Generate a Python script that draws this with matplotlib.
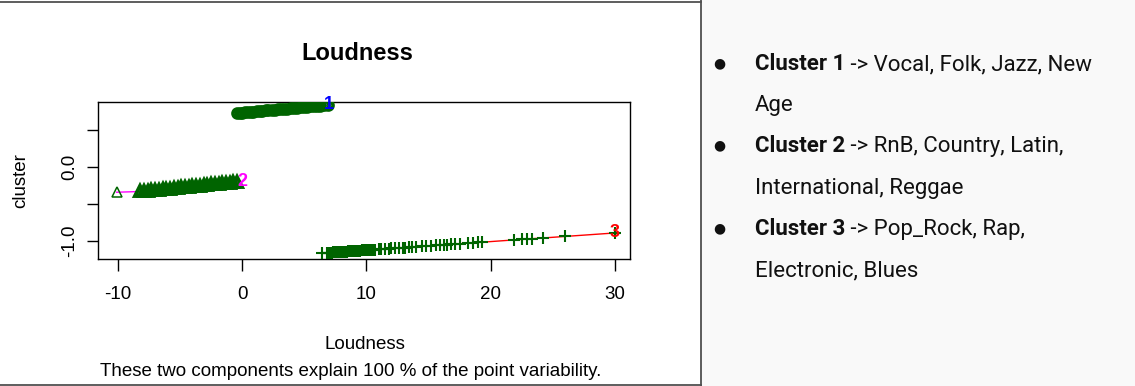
import matplotlib
matplotlib.use("Agg")
import matplotlib.pyplot as plt
from matplotlib.lines import Line2D
from matplotlib.patches import Rectangle

# cluster 1 (circles)
c1_x = [-0.4, -0.2, 0.0, 0.2, 0.5, 0.7, 0.9, 1.2, 1.4, 1.6, 1.9, 2.1, 2.4, 2.6, 2.9,
        3.1, 3.4, 3.6, 3.9, 4.2, 4.4, 4.7, 5.0, 5.2, 5.5, 5.8, 6.0, 6.3, 6.6, 6.9]
c1_y = [0.725, 0.728, 0.731, 0.734, 0.739, 0.742, 0.745, 0.749, 0.752, 0.755, 0.760,
        0.763, 0.767, 0.770, 0.775, 0.778, 0.782, 0.785, 0.790, 0.794, 0.797, 0.802,
        0.806, 0.809, 0.814, 0.818, 0.821, 0.826, 0.830, 0.835]

# cluster 2 (triangles)
c2_x = [-10.1, -8.2, -7.9, -7.6, -7.3, -7.0, -6.7, -6.4, -6.1, -5.8, -5.5, -5.2, -4.9,
        -4.6, -4.3, -4.0, -3.7, -3.4, -3.1, -2.8, -2.5, -2.2, -1.9, -1.6, -1.3, -1.0,
        -0.7, -0.4]
c2_y = [-0.345, -0.335, -0.330, -0.325, -0.320, -0.315, -0.310, -0.305, -0.300, -0.295,
        -0.290, -0.285, -0.280, -0.275, -0.270, -0.265, -0.260, -0.255, -0.250, -0.245,
        -0.240, -0.235, -0.230, -0.225, -0.220, -0.215, -0.210, -0.205]

# cluster 3 (plus)
c3_x = [6.4, 6.8, 6.9, 7.0, 7.1, 7.2, 7.3, 7.4, 7.5, 7.6, 7.7, 7.8, 7.9, 8.0, 8.1, 8.2,
        8.3, 8.4, 8.5, 8.6, 8.7, 8.8, 8.9, 9.0, 9.1, 9.2, 9.3, 9.4, 9.5, 9.6, 9.7, 9.8,
        9.9, 10.0, 10.1, 10.2, 10.3, 10.4, 10.5, 10.7, 11.0, 11.2, 11.5, 11.8, 12.0,
        12.3, 12.6, 12.9, 13.1, 13.4, 13.7, 14.0, 14.5, 14.8, 15.2, 15.6, 15.9, 16.2,
        16.5, 16.8, 17.1, 17.5, 18.2, 18.6, 19.0, 19.3, 21.9, 22.5, 22.9, 23.3, 24.2,
        26.0, 30.0]
c3_y = [-1.170, -1.165, -1.164, -1.163, -1.161, -1.160, -1.159, -1.158, -1.157, -1.156,
        -1.155, -1.153, -1.152, -1.151, -1.150, -1.149, -1.148, -1.146, -1.145, -1.144,
        -1.143, -1.142, -1.141, -1.139, -1.138, -1.137, -1.136, -1.135, -1.134, -1.132,
        -1.131, -1.130, -1.129, -1.128, -1.127, -1.125, -1.124, -1.123, -1.122, -1.120,
        -1.116, -1.114, -1.110, -1.107, -1.104, -1.101, -1.097, -1.094, -1.092, -1.088,
        -1.085, -1.081, -1.075, -1.072, -1.067, -1.063, -1.059, -1.056, -1.052, -1.049,
        -1.045, -1.040, -1.032, -1.028, -1.023, -1.020, -0.989, -0.982, -0.978, -0.973,
        -0.963, -0.942, -0.895]

x_ticks = [-10, 0, 10, 20, 30]
y_ticks = [-1.0, -0.5, 0.0, 0.5]
y_ticklabels = ["-1.0", "", "0.0", ""]

bullets = [
    ("Cluster 1", " -> Vocal, Folk, Jazz, New"),
    (None, "Age"),
    ("Cluster 2", " -> RnB, Country, Latin,"),
    (None, "International, Reggae"),
    ("Cluster 3", " -> Pop_Rock, Rap,"),
    (None, "Electronic, Blues"),
]

W, H = 1135, 386
fig = plt.figure(figsize=(W / 100, H / 100), dpi=100)
fig.patch.set_facecolor("white")

# right panel background + frame lines
fig.patches.append(Rectangle((701 / W, 0), 1 - 701 / W, 1, transform=fig.transFigure,
                             facecolor="#f9f9f9", edgecolor="none", zorder=0))
for xs, ys in [([0, 701 / W], [1 - 1.5 / H] * 2),
               ([0, 701 / W], [1 - 384.5 / H] * 2),
               ([701 / W] * 2, [0, 1])]:
    fig.lines.append(Line2D(xs, ys, transform=fig.transFigure, color="#505050", lw=1.3))

plt.rcParams["font.family"] = ["Liberation Sans", "DejaVu Sans"]

ax = fig.add_axes([98 / W, (H - 259) / H, 532 / W, 157 / H])
green = "#006400"

ax.plot(c1_x, c1_y, color="blue", lw=1, zorder=2)
ax.plot(c2_x, c2_y, color="magenta", lw=1, zorder=2)
ax.plot(c3_x, c3_y, color="red", lw=1, zorder=2)

ax.plot(c1_x, c1_y, "o", mfc="none", mec=green, ms=6.5, mew=2.6, ls="none", zorder=3)
ax.plot(c2_x[:1], c2_y[:1], "^", mfc="none", mec=green, ms=7, mew=1.1, ls="none", zorder=3)
ax.plot(c2_x[1:], c2_y[1:], "^", mfc="none", mec=green, ms=7.5, mew=2.8, ls="none", zorder=3)
ax.plot(c3_x, c3_y, "+", color=green, ms=9, mew=1.5, ls="none", zorder=3)

ax.text(c1_x[-1] + 0.1, c1_y[-1], "1", color="blue", fontsize=13, fontweight="bold",
        ha="center", va="center", zorder=4, clip_on=False)
ax.text(c2_x[-1] + 0.4, c2_y[-1], "2", color="magenta", fontsize=13, fontweight="bold",
        ha="center", va="center", zorder=4)
ax.text(c3_x[-1], c3_y[-1], "3", color="red", fontsize=13, fontweight="bold",
        ha="center", va="center", zorder=4)

ax.set_xlim(-11.6, 31.2)
ax.set_ylim(-1.247, 0.874)
ax.set_xticks(x_ticks)
ax.set_xticklabels([str(t) for t in x_ticks])
ax.set_yticks(y_ticks)
ax.set_yticklabels(y_ticklabels, rotation=90, va="center")
ax.tick_params(axis="x", length=8.5, width=1, labelsize=13.5, pad=11)
ax.tick_params(axis="y", length=8, width=1, labelsize=13.5, pad=6)
for s in ax.spines.values():
    s.set_linewidth(1)

ax.set_ylabel("cluster", fontsize=13.5)
ax.yaxis.set_label_coords(-0.13, 0.5)
ax.set_xlabel("Loudness", fontsize=13.5)
ax.xaxis.set_label_coords(0.501, -0.49)

fig.text(357 / W, 1 - 53 / H, "Loudness", fontsize=17, fontweight="bold",
         ha="center", va="center")
fig.text(351 / W, 1 - 371 / H, "These two components explain 100 % of the point variability.",
         fontsize=13.5, ha="center", va="center")

# right-hand notes
line_y = [62, 103, 144, 186, 227, 268]
txt_col = "#111111"
fig.canvas.draw()
renderer = fig.canvas.get_renderer()
for (bold, rest), yy in zip(bullets, line_y):
    yf = 1 - (yy + 8) / H
    x0 = 755 / W
    if bold:
        fig.text(719 / W, 1 - (yy + 1) / H, "\u25cf", fontsize=10, color=txt_col,
                 ha="center", va="center", family=["DejaVu Sans"])
        t = fig.text(x0, yf, bold, fontsize=16, fontweight="bold", color=txt_col,
                     va="baseline", family=["Roboto", "DejaVu Sans"])
        bb = t.get_window_extent(renderer)
        x0 = bb.x1 / W
    fig.text(x0, yf, rest, fontsize=16, color=txt_col, va="baseline",
             family=["Roboto", "DejaVu Sans"])

fig.savefig("out.png", dpi=100)
